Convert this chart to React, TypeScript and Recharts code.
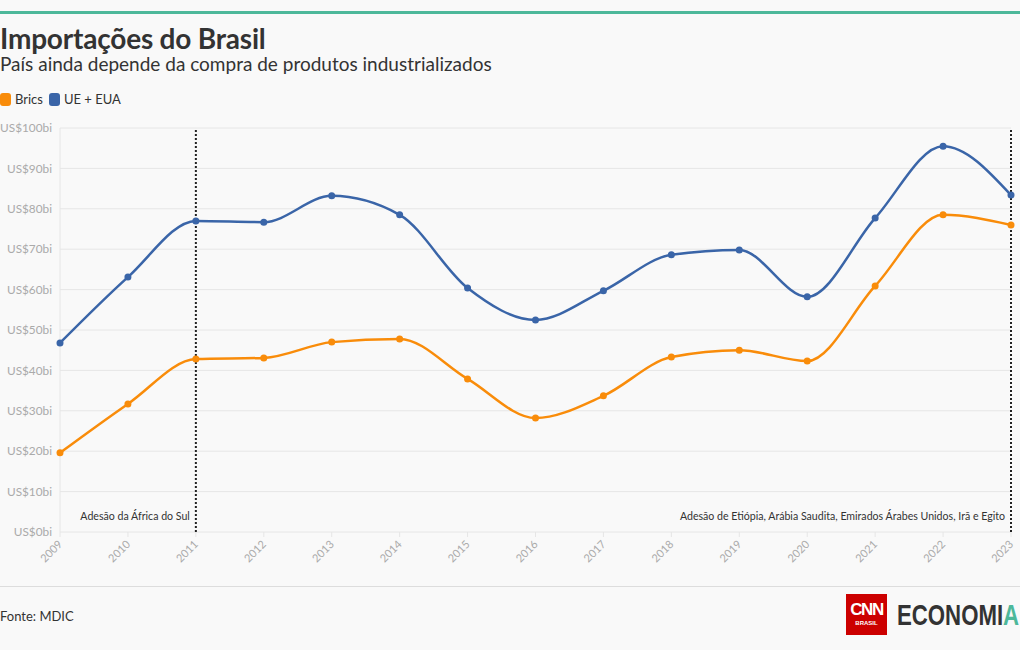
import React from "react";
import {
  CartesianGrid,
  Line,
  LineChart,
  ReferenceLine,
  XAxis,
  YAxis,
} from "recharts";

// Importações do Brasil, em US$ bilhões
const YEARS = [
  "2009", "2010", "2011", "2012", "2013", "2014", "2015", "2016",
  "2017", "2018", "2019", "2020", "2021", "2022", "2023",
];
const BRICS = [19.6, 31.7, 42.8, 43.1, 47.0, 47.8, 37.9, 28.2, 33.7, 43.3, 45.0, 42.3, 60.9, 78.5, 76.0];
const UE_EUA = [46.8, 63.1, 77.0, 76.7, 83.2, 78.5, 60.4, 52.5, 59.7, 68.6, 69.8, 58.2, 77.7, 95.5, 83.4];
const Y_TICKS = [0, 10, 20, 30, 40, 50, 60, 70, 80, 90, 100];

const ORANGE = "#f98c0a";
const BLUE = "#3a65a8";
const TEAL = "#4db89a";
const FONT = "Lato, 'Noto Sans', sans-serif";

const data = YEARS.map((year, i) => ({ year, brics: BRICS[i], ue: UE_EUA[i] }));

function YearTick({ x, y, payload }: any) {
  return (
    <text
      x={x + 3}
      y={y + 6}
      transform={`rotate(-45 ${x + 3} ${y + 6})`}
      textAnchor="end"
      fontSize={11}
      fill="#aaa"
      fontFamily={FONT}
    >
      {payload.value}
    </text>
  );
}

function EventLabel({ viewBox, text }: any) {
  const x = viewBox.x - 6;
  const y = viewBox.y + viewBox.height - 12;
  return (
    <text x={x} y={y} textAnchor="end" fontSize={10.6} fill="#333" fontFamily={FONT}>
      {text}
    </text>
  );
}

function LegendItem({ color, label }: { color: string; label: string }) {
  return (
    <span style={{ display: "inline-flex", alignItems: "center", marginRight: 6 }}>
      <span
        style={{
          width: 11,
          height: 13,
          borderRadius: 3,
          background: color,
          display: "inline-block",
          marginRight: 4,
        }}
      />
      {label}
    </span>
  );
}

export default function App() {
  return (
    <div
      style={{
        position: "absolute",
        left: 0,
        top: 0,
        width: 1020,
        height: 650,
        background: "#f9f9f9",
        fontFamily: FONT,
        color: "#333",
        overflow: "hidden",
      }}
    >
      <div style={{ position: "absolute", left: 0, top: 11, width: 1020, height: 3, background: TEAL }} />
      <div style={{ position: "absolute", left: 0, top: 21, fontSize: 28, fontWeight: 700, color: "#333", letterSpacing: -0.2 }}>
        Importações do Brasil
      </div>
      <div style={{ position: "absolute", left: 0, top: 52, fontSize: 19, color: "#333" }}>
        País ainda depende da compra de produtos industrializados
      </div>
      <div style={{ position: "absolute", left: 0, top: 91, fontSize: 13, color: "#333", display: "flex" }}>
        <LegendItem color={ORANGE} label="Brics" />
        <LegendItem color={BLUE} label="UE + EUA" />
      </div>

      <div style={{ position: "absolute", left: 0, top: 104 }}>
        <LineChart
          width={1020}
          height={478}
          data={data}
          margin={{ top: 24, right: 9, bottom: 0, left: 2 }}
        >
          <CartesianGrid vertical={false} stroke="#e6e6e6" />
          <XAxis
            dataKey="year"
            height={50}
            interval={0}
            tick={<YearTick />}
            axisLine={false}
            tickLine={{ stroke: "#e6e6e6" }}
            tickSize={5}
          />
          <YAxis
            width={58}
            domain={[0, 100]}
            ticks={Y_TICKS}
            interval={0}
            tickFormatter={(v: number) => `US$${v}bi`}
            tick={{ fontSize: 11.8, fill: "#aaa", fontFamily: FONT }}
            axisLine={{ stroke: "#e6e6e6" }}
            tickLine={false}
            tickSize={0}
            tickMargin={8}
          />
          <ReferenceLine
            x="2011"
            stroke="#222"
            strokeWidth={2}
            strokeDasharray="2 2"
            label={<EventLabel text="Adesão da África do Sul" />}
          />
          <ReferenceLine
            x="2023"
            stroke="#222"
            strokeWidth={2}
            strokeDasharray="2 2"
            label={<EventLabel text="Adesão de Etiópia, Arábia Saudita, Emirados Árabes Unidos, Irã e Egito" />}
          />
          <Line
            type="monotone"
            dataKey="brics"
            stroke={ORANGE}
            strokeWidth={2.5}
            dot={{ r: 3.5, fill: ORANGE, stroke: ORANGE, strokeWidth: 0 }}
            activeDot={false}
            isAnimationActive={false}
          />
          <Line
            type="monotone"
            dataKey="ue"
            stroke={BLUE}
            strokeWidth={2.5}
            dot={{ r: 3.5, fill: BLUE, stroke: BLUE, strokeWidth: 0 }}
            activeDot={false}
            isAnimationActive={false}
          />
        </LineChart>
      </div>

      <div style={{ position: "absolute", left: 0, top: 586, width: 1020, height: 1, background: "#ddd" }} />
      <div style={{ position: "absolute", left: 0, top: 608, fontSize: 13, color: "#333" }}>Fonte: MDIC</div>

      <div
        style={{
          position: "absolute",
          left: 846,
          top: 594,
          width: 41,
          height: 41,
          background: "#cc0000",
          color: "#fff",
          textAlign: "center",
          fontFamily: "'Liberation Sans', Arial, sans-serif",
        }}
      >
        <div style={{ fontSize: 17, fontWeight: 700, lineHeight: "17px", marginTop: 7, letterSpacing: -1.5 }}>CNN</div>
        <div style={{ fontSize: 6, fontWeight: 700, marginTop: 2 }}>BRASIL</div>
      </div>
      <div
        style={{
          position: "absolute",
          left: 897,
          top: 598,
          fontSize: 30,
          fontWeight: 700,
          color: "#333",
          fontFamily: "'Liberation Sans', Arial, sans-serif",
          lineHeight: "34px",
          whiteSpace: "nowrap",
          transform: "scaleX(0.74)",
          transformOrigin: "0 0",
        }}
      >
        ECONOMI<span style={{ color: TEAL }}>A</span>
      </div>
    </div>
  );
}
